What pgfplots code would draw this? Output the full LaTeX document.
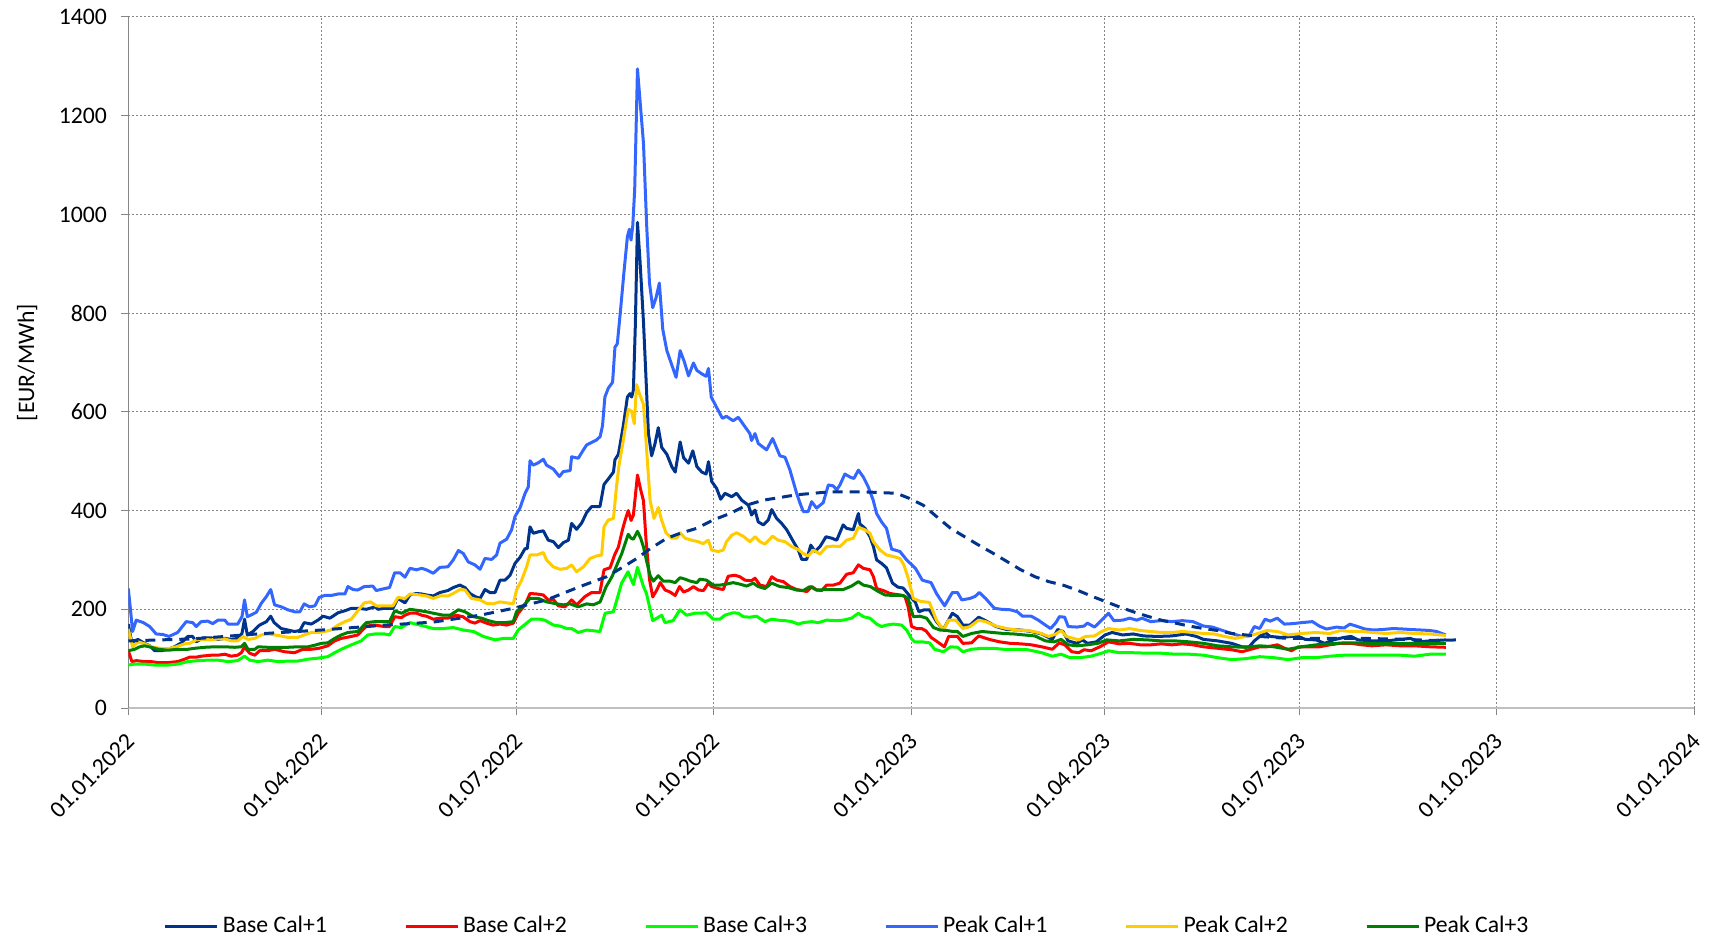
\documentclass[border=0pt]{standalone}
\usepackage{fontspec}
\setmainfont{Carlito}
\usepackage{pgfplots}
\pgfplotsset{compat=1.18}
\definecolor{bc1}{RGB}{0,51,140}
\definecolor{bc2}{RGB}{255,0,0}
\definecolor{bc3}{RGB}{0,255,0}
\definecolor{pc1}{RGB}{51,102,255}
\definecolor{pc2}{RGB}{255,204,0}
\definecolor{pc3}{RGB}{0,128,0}
\definecolor{gridc}{RGB}{134,134,134}
\newcommand{\chartfont}{\fontsize{11.85bp}{14bp}\selectfont}
\begin{document}
\begin{tikzpicture}
\begin{axis}[
  scale only axis, width=782.85bp, height=345.5bp,
  xmin=0, xmax=730, ymin=0, ymax=1400,
  axis lines*=left, axis line style={-},
  x axis line style={draw=black!25, line width=1bp},
  y axis line style={draw=gridc, line width=0.5bp},
  xtick={0,90,181,273,365,455,546,638,730},
  xticklabels={01.01.2022,01.04.2022,01.07.2022,01.10.2022,01.01.2023,01.04.2023,01.07.2023,01.10.2023,01.01.2024},
  ytick={0,200,400,600,800,1000,1200,1400},
  yticklabels={0,200,400,600,800,1000,1200,1400},
  tick align=outside, major tick length=3.5bp,
  tick style={draw=gridc, line width=0.5bp},
  grid=major, major grid style={draw=gridc, line width=0.5bp, dash pattern=on 1bp off 1bp},
  ticklabel style={font=\chartfont},
  yticklabel style={anchor=east, inner sep=0pt, xshift=-7bp},
  xticklabel style={xshift=1.2bp, yshift=-11bp, rotate=45, anchor=east, inner sep=0pt},
  ylabel={[EUR/MWh]},
  every axis y label/.style={at={(rel axis cs:0,0.5)}, xshift=-50.5bp, rotate=90, anchor=center, font=\chartfont},
  legend columns=6,
  legend style={draw=none, fill=none, at={(0.4598,-0.3157)}, anchor=center, font=\chartfont,
    /tikz/every even column/.append style={column sep=36.6bp}},
  legend image code/.code={\draw[#1] (0bp,0bp) -- (26bp,0bp);},
  every axis plot/.append style={line width=1.5bp, line join=round, no markers},
]
\coordinate (sw) at (rel axis cs:0,0);
% Base Cal+1
\addplot[color=bc1] table {
d v
0 170
1.5 135
2 134
4.5 139
7.6 131
10 126
12.3 116
15.4 116
18.5 119
21.6 124
24.7 132
27.8 145
30 145
31.7 134
34.8 142
38.7 142
41.8 139
45 141
48 139
51 141
53 151
54.2 180
55.5 148
58.1 155
61.2 168
64.4 175
66.4 186
68 173
71.3 161
74.4 158
77.5 155
80 157
82 173
85.3 170
88.4 178
90.8 186
94 182
97.8 193
101 197
104 202
107 202
111 200
115 205
116.4 200
119.5 202
123.4 202
125.7 222
129 213
131.3 229
134.4 232
136.8 231
139 229
142.2 227
145.3 234
149 238
151.5 244
154.6 249
157 244
159.3 232
161.6 226
164 222
166.3 240
168.6 234
171 234
173.3 259
175.6 259
178 269
180.3 293
182.6 305
185 323
186 323
187.3 367
188.8 354
191.2 357
193.5 359
195.8 340
198.2 337
200.5 325
202.8 335
205.2 340
206.7 374
209 362
211.4 375
213.7 396
216 408
219.9 408
221.8 453
223.8 464
226.2 478
226.9 503
228.5 514
230.8 572
232.7 630
233.9 637
234.7 630
235.5 644
236.4 775
237.4 984
238.6 905
240.2 782
241.4 666
242.5 557
244 511
245.6 536
247.1 568
248.7 528
251.1 514
253.4 489
255 478
257.3 539
258.9 507
261.2 496
263.2 521
265.1 489
267.4 478
269.4 474
270.5 499
272 459
274.3 445
276.2 423
278.2 435
281.3 428
283.6 435
286 421
289.1 411
290.6 391
292.2 401
293.7 377
296.1 371
298.4 381
300 402
302.3 384
304.6 374
307 361
310.1 337
312.4 320
314 301
316.3 301
318.2 330
320.2 317
322.5 327
325.3 347
328 344
330.3 340
333.3 371
334.9 364
338 361
340.4 394
341.1 373
343.5 364
345.8 347
347.4 327
348.9 300
351.2 293
353.5 284
356.3 253
358.8 245
361.3 243
364.5 226
367 214
368.6 195
371.1 199
373.5 199
376.8 175
380 159
384.2 192
386.6 185
389.1 168
392.4 168
396.5 184
399.7 177
404.6 165
409.5 159
416.1 158
421 155
425.9 150
430.8 139
433.3 159
435.8 155
438.2 136
442.3 131
444.8 138
447.2 131
451.3 134
455.4 148
458.7 153
463.6 148
468.5 150
473.4 146
480 145
486.5 146
493.1 150
498 145
501.3 139
507.9 136
514.4 131
519.3 124
522.6 124
525 136
527.5 145
530 153
532.4 145
537.4 143
542.3 145
545.5 145
548.8 139
553.7 138
557.8 131
561.9 138
566.8 143
570.1 145
573.4 138
579.9 136
586.5 136
593 139
597.9 141
601.2 134
607 136
614.3 138
};
\addlegendentry{Base Cal+1}
% Base Cal+2
\addplot[color=bc2] table {
d v
0 116
1.7 94
3.7 96
7.6 94
10.7 94
14 92
18.5 92
23 94
26.3 99
28.6 103
31.7 103
34 105
38.7 107
41.8 107
45 109
48 105
51 107
52.7 112
54.2 123
56.6 111
59 107
61.2 116
65 116
68.2 119
72.9 114
77.5 112
81.4 119
85.3 119
89 121
93 126
96.2 136
99.3 141
104 145
107 148
111 166
115 168
119.5 165
121.8 165
124.2 185
127.3 183
129 188
131.3 192
134.4 192
136.8 188
139 186
142.2 180
145.3 182
149 182
152.9 188
156 185
159.3 175
161.6 172
164 177
167 172
170 168
173.3 170
176.4 168
179.5 172
181.8 192
185 209
187.3 232
190.4 231
193.5 229
195.8 219
198.2 220
200.5 207
203.6 205
206.7 219
209 209
213 226
216 234
219.9 234
221.8 280
224.6 284
226.9 312
228.5 326
230.4 361
231.6 380
233.1 400
234.4 380
235.5 391
237.4 472
238.9 442
240.2 420
241.4 340
243 261
244.5 225
246.4 239
248 254
250.3 239
252.6 235
255 228
257 246
258.9 235
261.2 239
263.5 246
265.9 239
268.2 238
270.4 253
272 246
275 242
277.4 240
279.7 267
282.8 269
285.1 266
287.5 259
290.6 258
292.2 263
294.5 249
297.6 246
300 266
302.3 259
305.4 256
308.5 246
311.6 240
314 238
316.4 236
318.7 246
321 239
323.3 238
325.6 249
328.7 249
331.8 253
334.9 271
338 274
340.4 290
342.7 283
345.8 280
347.4 266
348.9 242
352 238
355.1 232
359.8 229
362.1 226
363.6 205
365.2 165
367.5 161
369.9 161
372 156
374.3 143
377.6 133
380.5 124
382.5 145
386.6 145
389.1 131
393.2 132
396.5 146
401.4 139
406.3 134
411.2 131
416.1 130
421 128
425.9 124
430.8 119
434.1 132
436.6 128
439.9 114
443.1 112
445.6 118
448.9 116
453 124
457 134
462 130
466.9 131
471.8 128
476.7 128
481.6 130
486.5 128
491.5 130
496.4 128
501.3 124
507.9 121
514.4 118
519.3 114
522.6 118
527.5 124
530.9 124
535.8 128
539.1 121
542.3 116
545.5 124
550.4 124
555.3 124
560.2 128
565.2 131
570.1 131
575 128
579.9 126
586.5 128
593 126
599.6 126
607 124
614.3 123
};
\addlegendentry{Base Cal+2}
% Base Cal+3
\addplot[color=bc3] table {
d v
0 87
3 89
7.6 89
12.3 87
18.5 87
23 89
27.8 94
32.5 96
37.2 97
41.8 97
46.5 94
51 96
54.2 105
56.6 97
60.5 94
65 97
69.8 94
74.4 95
79 95
83.8 99
88.4 101
93 104
96.2 112
99.3 119
104 128
108.6 136
111.7 148
115 150
119.5 150
121.8 148
124.2 165
127.3 163
131.3 173
136 168
142.2 161
146.9 161
151.5 163
156.2 158
160.9 155
165.5 145
171 138
174.8 141
179.5 141
181.8 158
185.7 172
188 180
191.9 180
194.2 178
198.2 168
201.3 166
204.4 161
206.7 161
209.8 153
213.7 158
219.9 155
222.3 192
226.2 195
230 253
233 276
235.5 250
237.4 285
240.2 246
241.6 232
244.5 177
248.7 188
250.2 173
254 177
257.2 199
260.3 188
264.2 192
266.5 192
269.6 193
272.7 180
275.8 180
278.1 188
282 193
284.4 192
286.7 185
289.8 184
292.9 186
296.8 175
300 180
303 178
306.2 177
309.3 175
312.4 170
314.7 173
318.6 175
321.7 173
325.6 178
330.3 177
333.3 178
337.2 182
340.4 192
342.7 185
345.8 182
348.9 170
351.2 165
353.5 168
356.6 170
360.5 168
362.9 158
365.2 140
366.6 134
370.2 134
373.5 132
376 119
380 114
383.4 124
386.6 123
389.1 114
393.2 119
398.1 121
403 121
408 119
412.9 119
419.4 118
425.9 112
430.8 105
434.9 109
439 102
443.9 102
448.9 105
453.8 111
457 116
462 112
468.5 112
475.1 111
481.6 111
488.2 109
494.7 109
501.3 107
507.9 102
514.4 98
521 100
527.5 104
534.1 102
540.7 98
547.1 102
553.7 102
560.2 105
566.8 107
573.4 107
579.9 107
586.5 107
593 107
599.6 105
607 109
614.3 109
};
\addlegendentry{Base Cal+3}
% Peak Cal+1
\addplot[color=pc1] table {
d v
0 242
1 200
2 155
3.7 178
7 173
10 165
13 150
16 149
19 145
23 153
27 175
30 173
31.7 165
34 175
37 176
39.4 171
41.8 178
45 178
46.5 170
51 170
53 185
54.2 219
55.5 185
57 188
59.7 194
62 212
64.4 226
66.4 240
68.2 209
71.3 205
74.4 199
77.5 195
80 195
82 211
84.5 205
87 207
89 224
91.5 228
94.6 228
97.8 231
101 231
102.4 246
104.8 240
107 239
110 246
114 247
115.6 238
119.5 242
121.8 244
124.2 274
126.7 274
129 265
131.3 283
134.4 280
136.8 283
139 280
142.2 273
145.3 285
149 286
151.5 300
153.9 319
156.2 313
158.5 296
161.6 290
164 281
166.3 303
169.4 301
171.7 310
173.3 334
176.4 342
178.7 361
180.3 388
182.6 405
185 435
186.5 448
187.3 501
188.8 492
191.2 497
193.5 504
195 492
198.2 484
201 469
202.8 479
206 481
206.7 509
209.8 506
212.2 523
213.7 533
216 538
218.3 543
220 550
221.1 572
222.2 630
223.8 648
225.8 660
226.9 731
228 738
229.6 811
231.1 883
232.7 955
233.6 970
234.4 948
235.2 977
236.1 1050
237.4 1295
238.6 1230
240.2 1144
241.7 977
243 861
244.5 811
246.1 832
247.6 861
249.2 767
251.1 724
253.4 695
255.4 670
257.3 724
259.2 702
261.2 673
263.5 699
265.1 684
267.4 677
269.4 672
270.5 688
271.8 630
274.3 609
277 587
278.9 591
282 582
284.4 589
287.5 570
289.8 556
290.6 542
292.2 556
293.7 536
297.6 523
300.4 546
303.8 511
306.2 508
308.5 482
311.6 435
313.2 415
314.7 398
317 398
318.6 418
320.9 405
324 416
326.4 452
328.7 450
330.3 442
331.8 452
334.1 474
336.5 468
338.3 465
340.4 482
342.7 468
345 448
347.3 421
348.9 394
351.2 377
353.5 364
355.9 322
359.8 317
362.9 300
367 283
370.2 259
374.3 254
376.8 232
380.6 207
384.2 234
386.6 234
388.6 219
392.4 222
394.8 226
396.8 234
399.7 222
403.8 202
407.1 200
411.2 199
414.5 195
416.9 186
421 186
424.3 178
427.6 168
430 161
432.5 173
434.1 185
436.6 184
438.2 165
442.3 164
445.6 166
447.2 172
450.5 164
453.8 178
457 192
459.5 177
463.6 178
466.9 182
470.2 178
472.6 182
476.7 175
481.6 177
486.5 175
491.5 177
496.4 175
501.3 166
505.4 164
510.3 157
514.4 151
519.3 145
522.6 146
525 165
527.5 161
530 180
532.4 176
535.7 182
539 170
543.1 171
547.1 173
552.1 175
555.3 166
558.6 160
563.5 164
566.8 162
569.6 170
576.6 160
580.5 158
584.8 159
589.7 161
594.6 160
597.9 159
602.8 158
606.9 157
610 155
614.3 148
};
\addlegendentry{Peak Cal+1}
% Peak Cal+2
\addplot[color=pc2] table {
d v
0 160
2 124
4.5 134
7.6 130
10.7 124
14.6 121
18.5 120
22.4 124
26.3 130
28.6 131
31.7 138
34.8 139
38.7 138
41.8 140
45 140
48 136
51 136
53.5 145
55.8 139
59 141
62 148
65 150
68.2 148
71.3 146
74.4 143
79 143
82 148
85.3 153
88.4 153
91.5 155
94.6 158
97.8 168
101 175
104 180
107 197
110 213
113 215
115.6 207
119.5 207
123.4 207
125.7 224
129 222
131.3 231
136 229
139 227
142.2 222
145.3 227
149 227
151.5 232
154.6 240
157 239
160 222
164 219
167 212
170 211
173.3 215
176.4 213
179.5 211
181 239
183.4 259
185.7 286
187.3 310
190.4 310
193.5 315
195 300
198.2 286
201.3 281
204.4 283
206.7 290
209 276
212.2 286
215.3 303
218.3 308
220.7 310
221.8 367
223.8 381
226.2 384
227.6 448
228.8 492
230.8 543
233.1 605
234.7 601
235.9 576
237 655
238.3 637
240.2 615
241.7 521
243.3 420
245.1 384
247.1 406
248.7 380
250.7 355
253.4 344
255.7 344
257.3 355
259.6 344
262.7 340
265.7 337
268 333
270.4 340
272 320
275 317
277.4 320
278.9 337
281.3 350
283.6 355
286.7 348
289.8 337
292.2 347
294.5 337
296.8 332
300.4 348
303 340
306.2 337
309.3 327
312.4 321
314.7 313
317 308
319.4 320
322.5 312
325.6 327
328.7 328
331.8 327
334.9 340
338 344
340.4 366
343.5 361
345.8 354
347.4 337
350.5 320
353.5 310
356.6 307
359.8 303
361.6 290
363.5 265
366 222
369.4 216
373.5 214
376.8 178
380 158
382.5 178
385.8 178
389.1 161
392.4 165
396.5 178
399.7 175
404.6 166
409.5 161
414.4 158
419.4 157
424.3 153
429.2 145
432.5 150
434.9 157
437.4 145
440.7 141
443.1 138
446.4 145
450.5 146
453.8 155
457 161
462 158
466.9 161
471.8 157
476.7 155
481.6 153
486.5 153
491.5 155
496.4 153
501.3 151
506.2 150
511.1 145
516.1 141
521 145
525.9 150
530.9 157
535.8 155
540.7 148
547.1 151
553.7 153
560.2 151
565.2 157
570.1 155
575 155
579.9 153
586.5 151
593 153
599.6 151
607 150
614.3 147
};
\addlegendentry{Peak Cal+2}
% Peak Cal+3
\addplot[color=pc3] table {
d v
0 116
3 119
5.3 124
7.6 126
10.7 123
14 119
18.5 117
23 119
27.8 119
31 121
35.6 123
40.3 124
45 124
49.6 123
52.7 124
54.2 131
55.8 119
59 119
60.5 124
65 123
69.8 123
74.4 123
79 124
83.8 124
87.6 128
90 131
93 132
96.2 141
99.3 148
102.4 153
107 155
111 173
115 175
119.5 175
121.8 175
124.2 197
127.3 192
131.3 200
136 197
139 195
142.2 192
146.9 188
150 188
153.9 199
157 195
160.9 185
164.7 182
167.9 177
171.7 173
175.6 173
179.5 175
181 195
184.2 207
187.3 222
191.2 222
195 215
199.7 211
202.8 209
205.9 211
209.8 205
213.7 211
216.8 209
220 215
222.7 245
225.5 266
228.5 297
230 312
231.6 333
233.1 352
234.4 344
235.5 342
237.4 358
238.9 344
240.2 326
241.7 297
243.3 268
244.8 257
247.1 268
249.4 257
252.6 257
255 254
257.3 264
259.6 261
262 257
265.1 254
266.5 261
269.6 259
272.7 249
275.8 249
278.9 251
282 254
285.1 251
288.3 247
291.4 253
293.7 246
296.8 242
300 253
303.8 246
307.7 244
311.6 239
314.7 238
317.8 246
320.9 239
325.6 240
330.3 240
333.3 240
337.2 247
340.4 256
342.7 249
346 246
349.7 236
352.8 229
356.6 228
361.3 228
363.6 222
366 185
369.1 186
372.2 182
375.4 163
378.5 158
381.6 157
384.6 155
386.6 155
389.1 145
393.2 151
398.1 155
403 153
408 151
412.9 150
417.8 148
422.7 146
427.6 136
431.7 134
434.9 139
438.2 128
442.3 126
447.2 128
452.1 131
456.2 138
462 136
468.5 139
475.1 138
481.6 136
488.2 136
494.7 134
501.3 131
507.9 126
514.4 124
521 123
527.5 126
534.1 124
540.7 119
547.1 124
553.7 128
560.2 130
566.8 132
573.4 132
579.9 131
586.5 131
593 131
599.6 131
607 131
614.3 131
};
\addlegendentry{Peak Cal+3}
% trend (dashed)
\addplot[color=bc1, dash pattern=on 5bp off 3.5bp, forget plot] table {
d v
0 136
30 140
60 150
90 158
120 168
142 174
164 188
179.5 202
195 219
210.6 246
223 266
230.8 286
237.1 303
243.4 323
251.1 344
257.3 354
265 364
272.7 381
280.5 394
288.3 411
296 421
311.6 432
327 438
342.6 438
358.2 435
364 425
370.6 411
376.8 388
383.4 364
389.9 347
396.5 330
403 314
409.6 297
416.1 280
422.7 266
429.2 256
435.8 249
442.3 239
448.9 227
455.4 216
462 205
468.5 195
475.1 186
481.6 178
488.2 172
494.7 166
501.3 161
507.9 157
514.4 151
521 148
527.5 145
534.1 143
540.7 141
557 141
576.6 141
596.3 139
607 137
621 138
};
\end{axis}
\pgfresetboundingbox
\path (sw) ++(-64.15bp,-115bp) rectangle ++(854.5bp,469bp);
\end{tikzpicture}
\end{document}
